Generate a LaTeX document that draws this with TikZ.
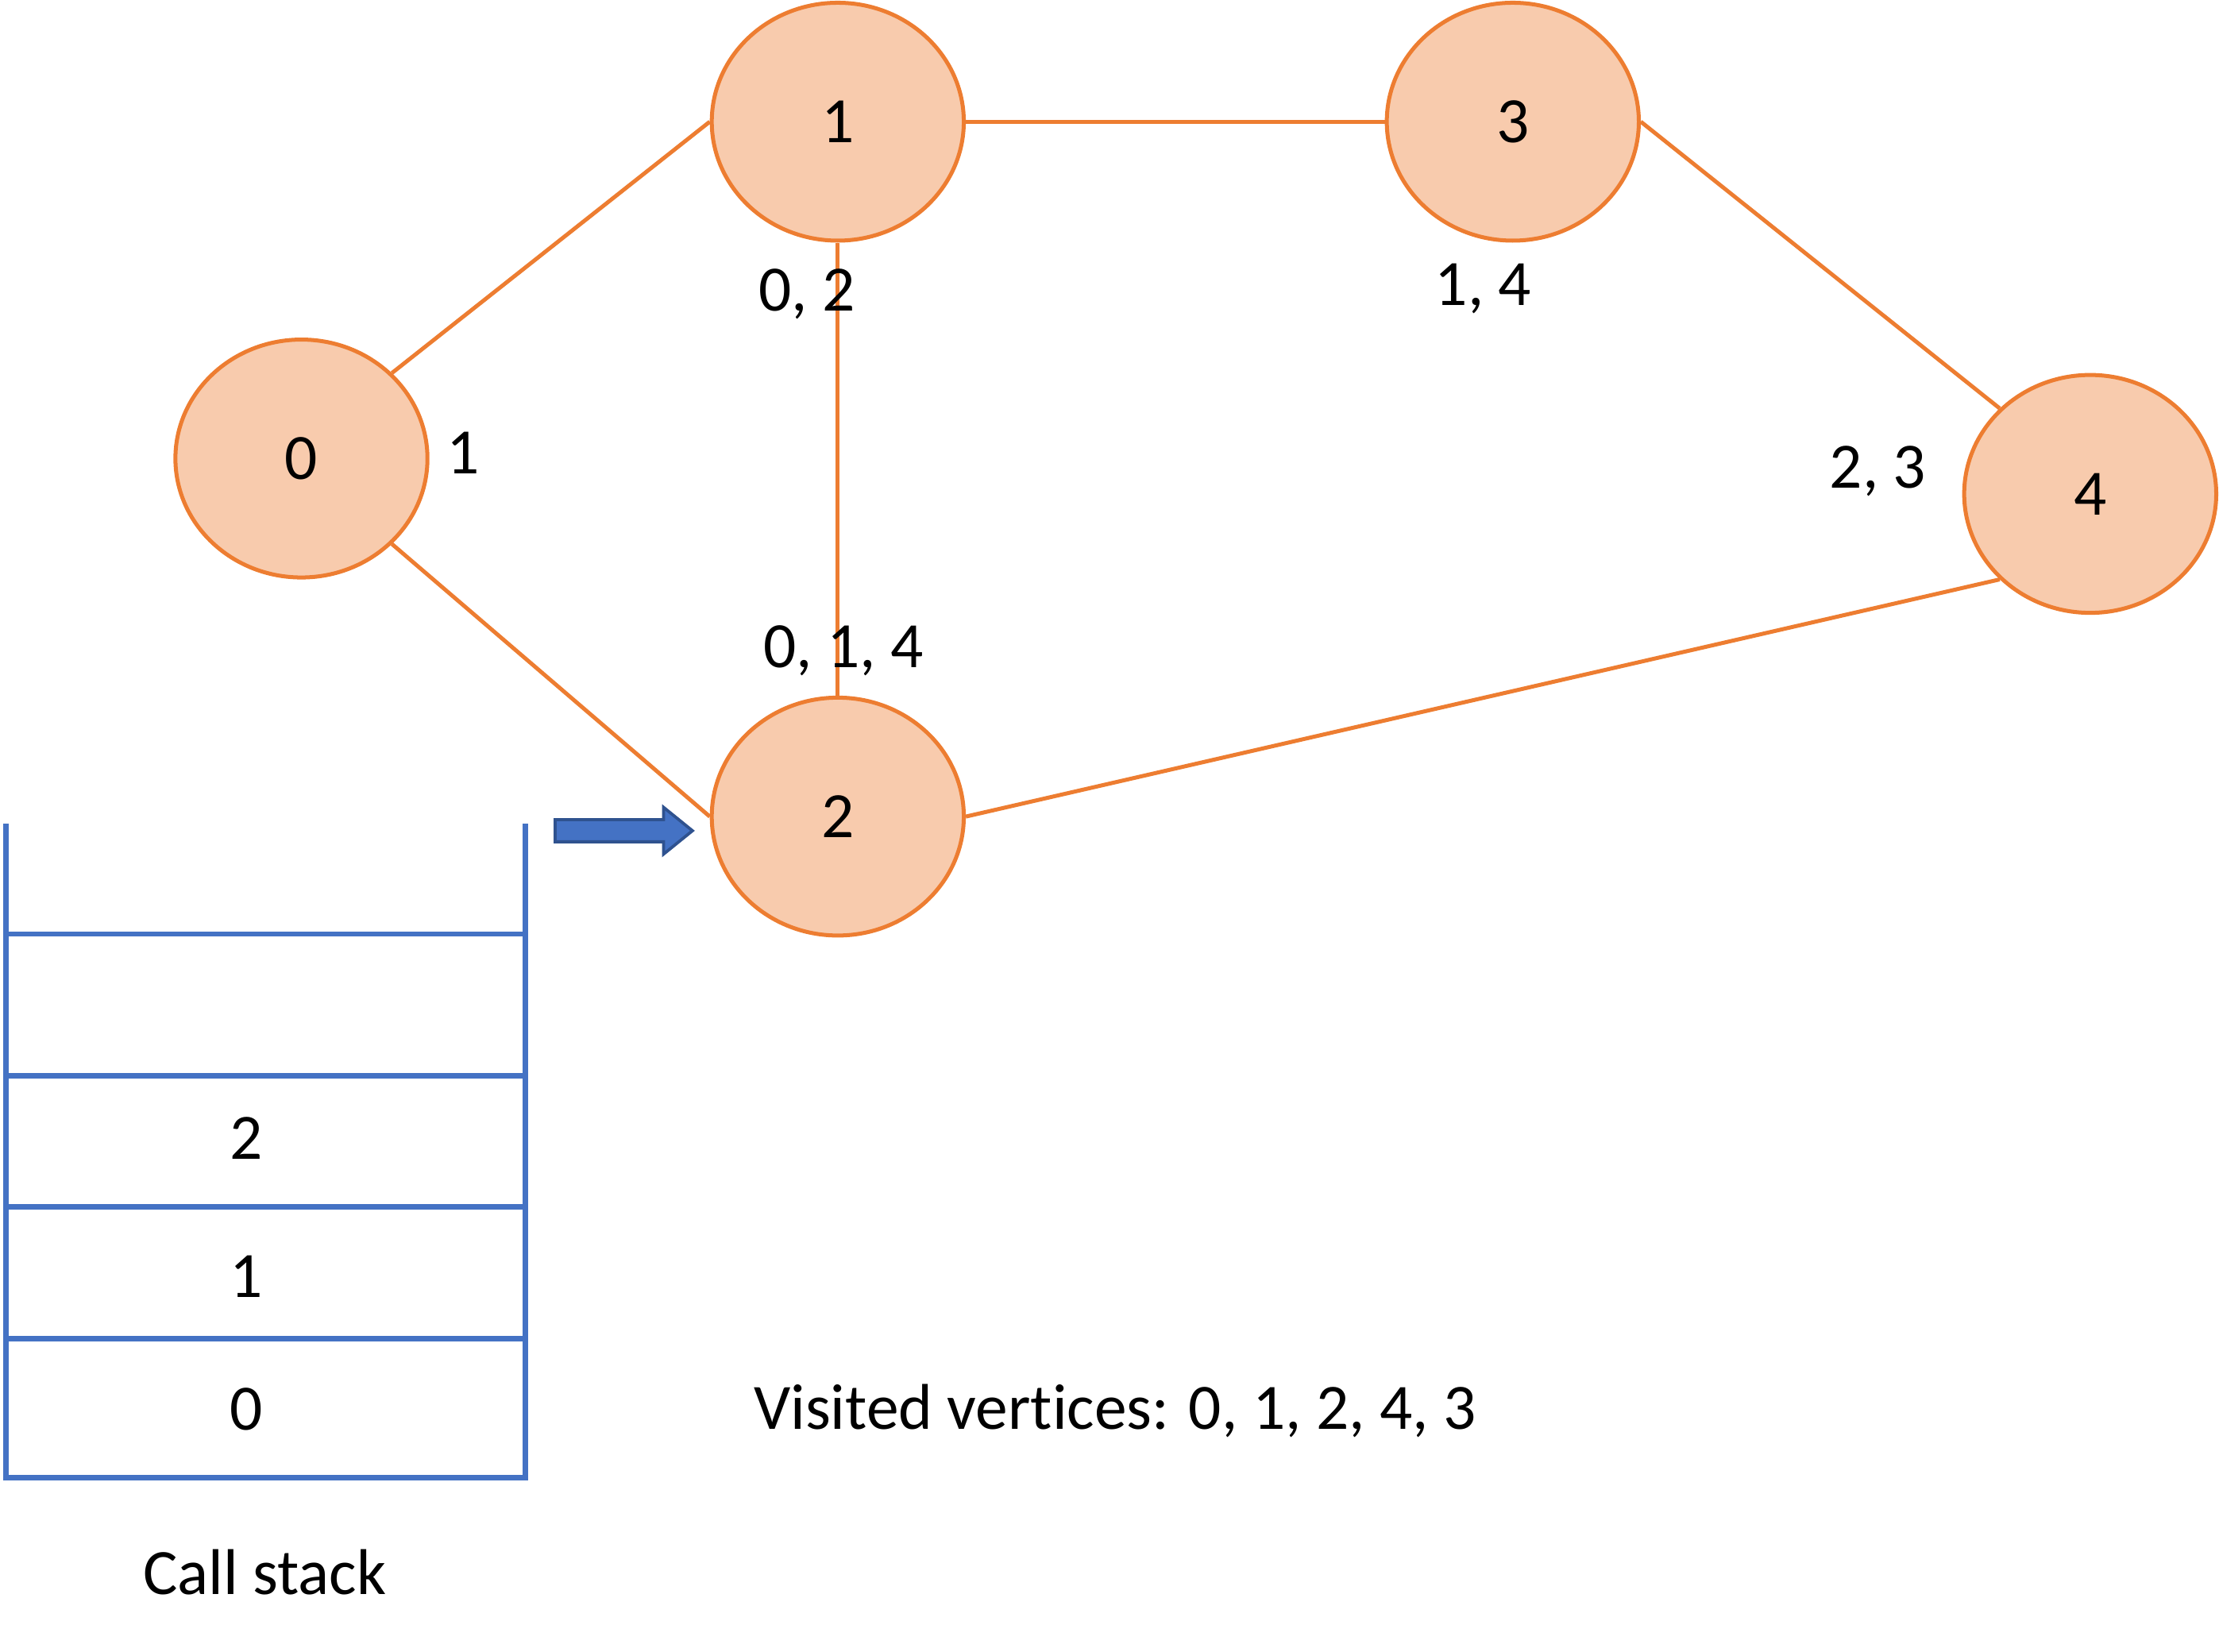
\documentclass[tikz,border=0pt]{standalone}
\usepackage{fontspec}
\setmainfont[Ligatures={NoCommon}]{Carlito}
\usepackage{tikz}
\usetikzlibrary{shapes.geometric,shapes.arrows}

\definecolor{vfill}{HTML}{F8CBAD}
\definecolor{vline}{HTML}{ED7D31}
\definecolor{stackblue}{HTML}{4472C4}
\definecolor{arrowline}{HTML}{2F528F}

\begin{document}
\begin{tikzpicture}[x=0.01cm,y=-0.01cm,
		every node/.style={font=\fontsize{13}{15}\selectfont,inner sep=0pt},
		vertex/.style={ellipse,draw=vline,fill=vfill,line width=0.8pt,minimum width=1.78cm,minimum height=1.68cm},
		link/.style={draw=vline,line width=0.8pt},
		frame/.style={draw=stackblue,line width=1.1pt}]
	\useasboundingbox (0,0) rectangle (1568,1167);

	% graph
	\node[vertex] (v0) at (213,324) {0};
	\node[vertex] (v1) at (592,86) {1};
	\node[vertex] (v3) at (1069,86) {3};
	\node[vertex] (v4) at (1477,349) {4};
	\node[vertex] (v2) at (592,577) {2};

	\draw[link] (v0.north east) -- (v1.west);
	\draw[link] (v0.south east) -- (v2.west);
	\draw[link] (v1.east) -- (v3.west);
	\draw[link] (v1.south) -- (v2.north);
	\draw[link] (v3.east) -- (v4.north west);
	\draw[link] (v2.east) -- (v4.south west);

	% adjacency lists
	\node (a0) at (327,320) {1};
	\node (a1) at (570,208) {0, 2};
	\node (a3) at (1048,204) {1, 4};
	\node (a4) at (1327,333) {2, 3};
	\node (a2) at (596,460) {0, 1, 4};

	% call stack
	\draw[frame] (4,582) -- (4,1044) -- (371,1044) -- (371,582);
	\foreach \y in {660,760,853,946}
		\draw[frame] (4,\y) -- (371,\y);
	\node (s2) at (174,804) {2};
	\node (s1) at (174,902) {1};
	\node (s0) at (174,996) {0};
	\node (cs) at (187,1111) {Call stack};

	\node[single arrow,fill=stackblue,draw=arrowline,line width=0.6pt,minimum height=0.97cm,inner ysep=0.0675cm,
		single arrow head extend=0.0875cm,single arrow tip angle=78,anchor=tip] (cur) at (491,587) {};

	\node[anchor=west] (seen) at (532,997) {Visited vertices: 0, 1, 2, 4, 3};
\end{tikzpicture}
\end{document}
